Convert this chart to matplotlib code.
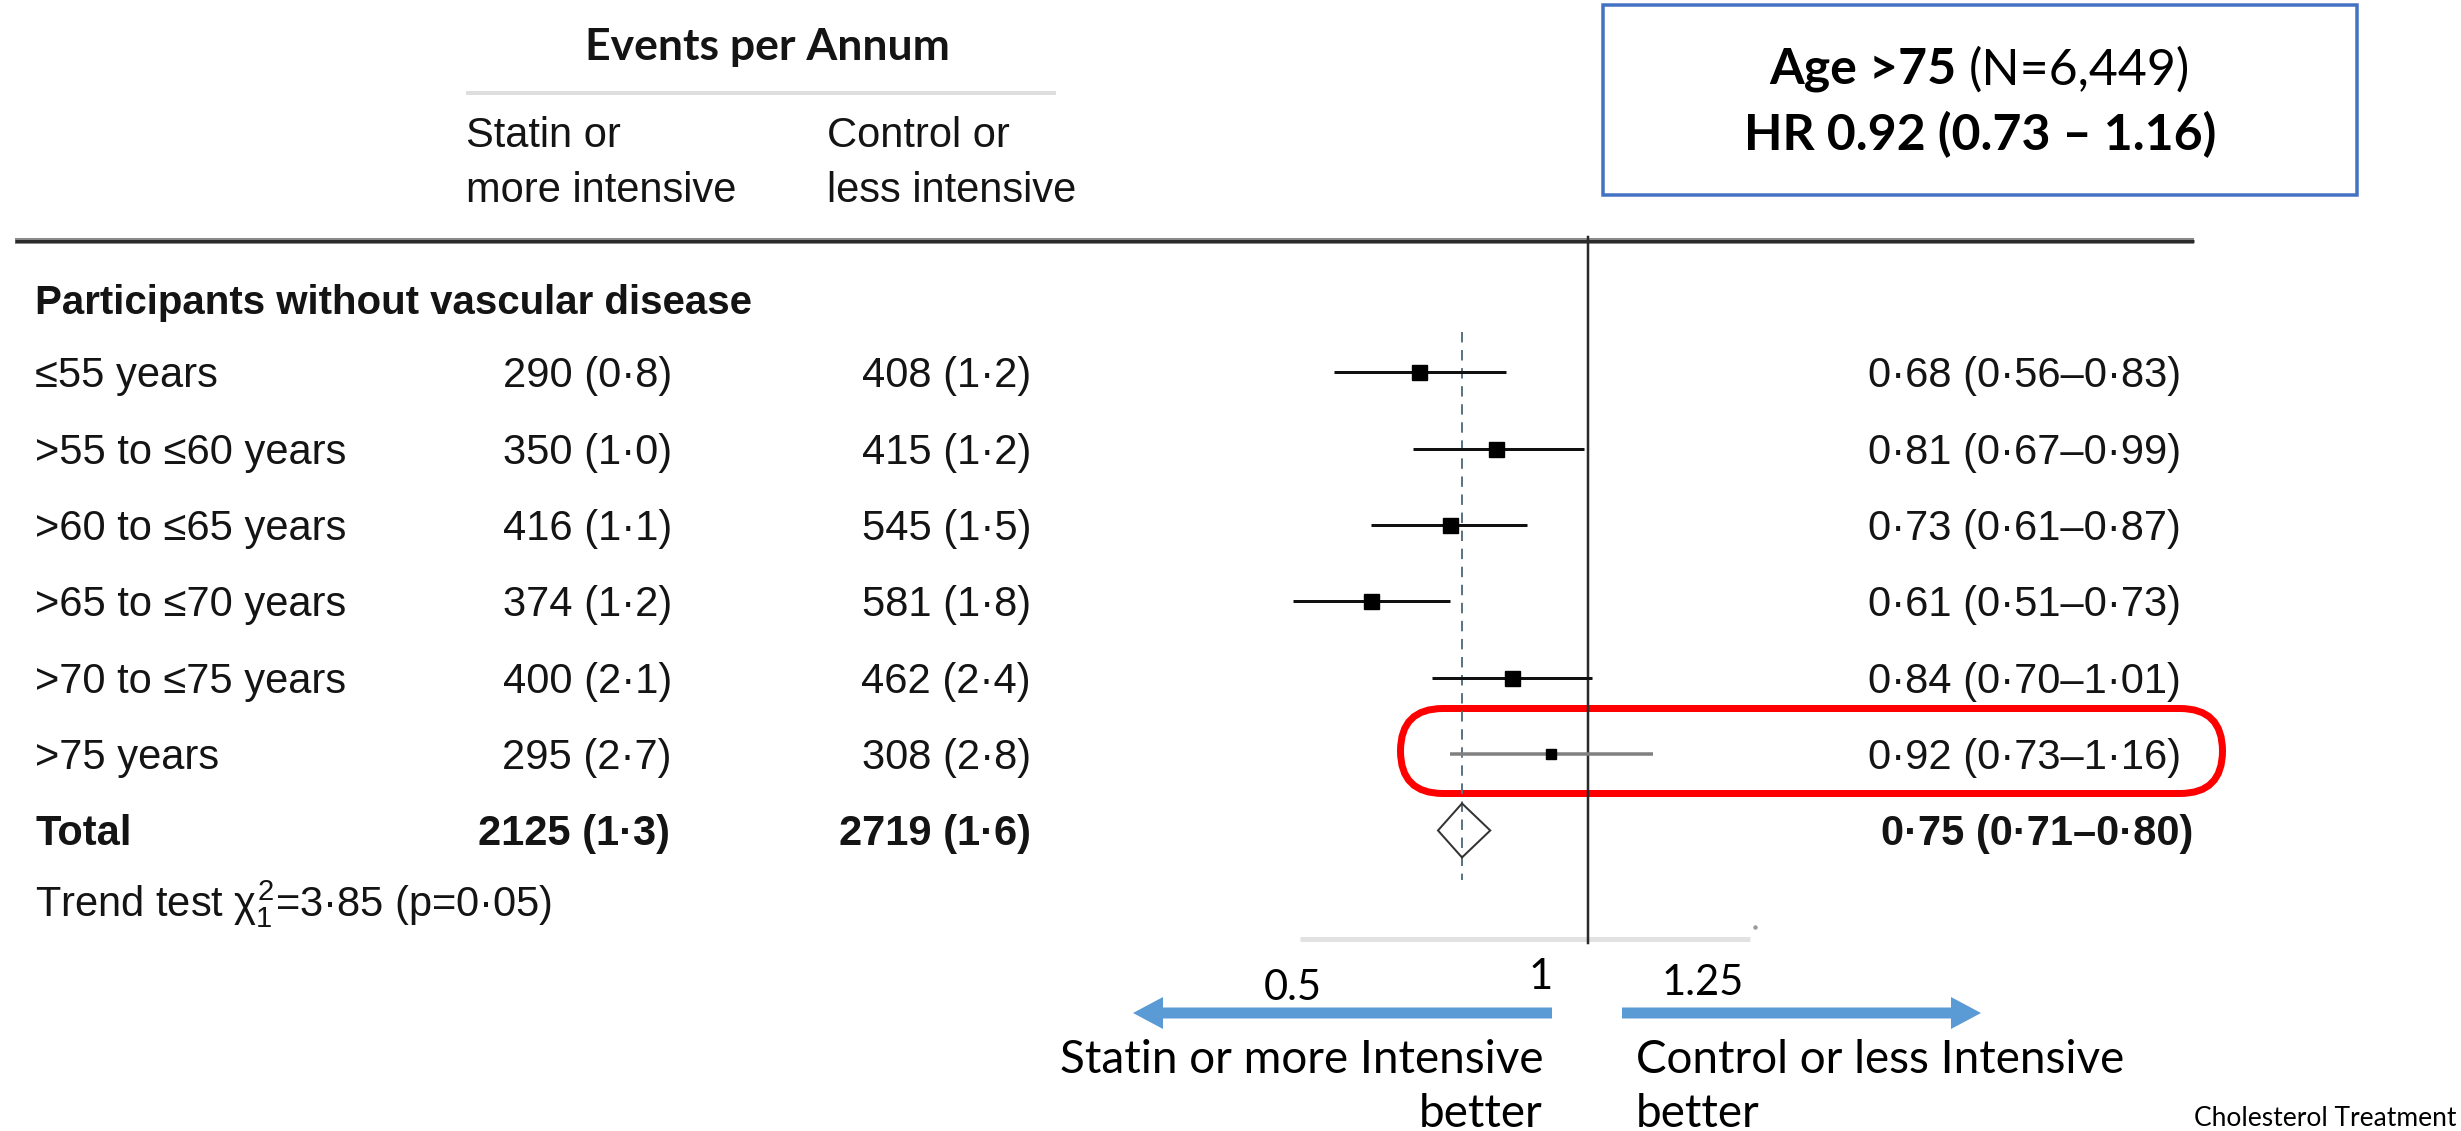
import numpy as np
import matplotlib
matplotlib.use("Agg")
import matplotlib.pyplot as plt
from matplotlib.patches import Rectangle, FancyBboxPatch, Polygon, FancyArrow

# ---------------- data ----------------
age_groups = ['≤55 years', '>55 to ≤60 years', '>60 to ≤65 years',
              '>65 to ≤70 years', '>70 to ≤75 years', '>75 years']
statin_events = [290, 350, 416, 374, 400, 295]
statin_rate = [0.8, 1.0, 1.1, 1.2, 2.1, 2.7]
control_events = [408, 415, 545, 581, 462, 308]
control_rate = [1.2, 1.2, 1.5, 1.8, 2.4, 2.8]
hr = [0.68, 0.81, 0.73, 0.61, 0.84, 0.92]
hr_lo = [0.56, 0.67, 0.61, 0.51, 0.70, 0.73]
hr_hi = [0.83, 0.99, 0.87, 0.73, 1.01, 1.16]
total_statin = [2125, 1.3]
total_control = [2719, 1.6]
total_hr = [0.75, 0.71, 0.80]
trend_chi2 = 3.85
trend_p = 0.05
scale_labels = ['0.5', '1', '1.25']
highlight_n = '6,449'
highlight_hr = ['0.92', '0.73', '1.16']

# ---------------- style ----------------
TABLE = ['Liberation Sans', 'DejaVu Sans']
SLIDE = ['Lato', 'DejaVu Sans']
TXT = '#141414'
plt.rcParams['mathtext.fontset'] = 'custom'
plt.rcParams['mathtext.rm'] = 'Liberation Sans'
plt.rcParams['mathtext.it'] = 'Liberation Sans'
plt.rcParams['mathtext.bf'] = 'Liberation Sans:bold'
plt.rcParams['lines.scale_dashes'] = False

W, H = 2461, 1131
PX = 0.72  # points per pixel at dpi 100

def ld(v, nd=1):
    return f"{v:.{nd}f}".replace('.', '·')

fig = plt.figure(figsize=(W / 100, H / 100), dpi=100)
canvas = fig.add_axes([0, 0, 1, 1])
canvas.set_xlim(0, W)
canvas.set_ylim(H, 0)
canvas.axis('off')

# forest axis: log scale, HR 1 at x=1588 px, 438 px per ln unit
x_one, k = 1588.0, 438.0
forest = fig.add_axes([0, 0, 1, 1])
forest.set_xscale('log')
forest.set_xlim(np.exp(-x_one / k), np.exp((W - x_one) / k))
forest.set_ylim(H, 0)
forest.axis('off')
forest.patch.set_visible(False)

row0, dy = 372.3, 76.36
rows_y = [row0 + i * dy for i in range(len(age_groups))]
total_y = row0 + len(age_groups) * dy

def t(x, y, s, size=30, weight='normal', ha='left', va='baseline', family=TABLE, **kw):
    return canvas.text(x, y, s, fontsize=size, fontweight=weight, ha=ha, va=va,
                       family=family, color=TXT, **kw)

# ---------------- header ----------------
t(767, 47, 'Events per Annum', size=32, weight='bold', ha='center', va='center', family=SLIDE)
canvas.plot([466, 1056], [93, 93], color='#dedede', lw=4 * PX, solid_capstyle='butt')
t(466, 147, 'Statin or')
t(466, 202, 'more intensive')
t(827, 147, 'Control or')
t(827, 202, 'less intensive')
canvas.plot([15, 2194], [241, 241], color='#8a8a8a', lw=6 * PX, solid_capstyle='butt')
canvas.plot([15, 2194], [241, 241], color='#2a2a2a', lw=3 * PX, solid_capstyle='butt')

# ---------------- table ----------------
BL = 15  # baseline offset from row centre
t(35, 299 + BL, 'Participants without vascular disease', size=29, weight='bold')
for i, name in enumerate(age_groups):
    y = rows_y[i] + BL
    t(35, y, name)
    t(672, y, f"{statin_events[i]} ({ld(statin_rate[i])})", ha='right')
    t(1031, y, f"{control_events[i]} ({ld(control_rate[i])})", ha='right')
    t(2181, y, f"{ld(hr[i], 2)} ({ld(hr_lo[i], 2)}–{ld(hr_hi[i], 2)})", ha='right')
y = total_y + BL
t(35, y, 'Total', weight='bold')
t(670, y, f"{total_statin[0]} ({ld(total_statin[1])})", ha='right', weight='bold')
t(1031, y, f"{total_control[0]} ({ld(total_control[1])})", ha='right', weight='bold')
t(2193, y, f"{ld(total_hr[0], 2)} ({ld(total_hr[1], 2)}–{ld(total_hr[2], 2)})", ha='right', weight='bold')
t(35, 901 + BL, r"Trend test $\chi^2_1$=" + f"{ld(trend_chi2, 2)} (p={ld(trend_p, 2)})")

# ---------------- forest ----------------
forest.plot([1, 1], [237, 943], color='#2a2a2a', lw=2.5 * PX, zorder=3)
forest.plot([total_hr[0]] * 2, [332, 880], color='#5b7585', lw=2 * PX,
            dashes=(7.5, 5.5), zorder=2)
for i in range(len(age_groups)):
    last = i == len(age_groups) - 1
    c = '#808080' if last else '#111111'
    forest.plot([hr_lo[i], hr_hi[i]], [rows_y[i]] * 2, color=c,
                lw=(3.5 if last else 3) * PX, solid_capstyle='butt', zorder=4)
    forest.plot([hr[i]], [rows_y[i]], marker='s', color='black',
                ms=(10 if last else 15) * PX, zorder=5)
dh = 27
forest.add_patch(Polygon([[total_hr[1], total_y], [total_hr[0], total_y - dh],
                          [total_hr[2], total_y], [total_hr[0], total_y + dh]],
                         closed=True, fill=False, edgecolor='#333333', lw=2 * PX, zorder=5))
# x axis baseline
forest.plot([0.518, 1.448], [939, 939], color='#e2e2e2', lw=5 * PX,
            solid_capstyle='butt', zorder=1)
forest.plot([1.463], [927], marker='o', ms=3 * PX, color='#9a9a9a', zorder=1)

# highlight
canvas.add_patch(FancyBboxPatch((1400.5, 708.5), 822, 85,
                                boxstyle='round,pad=0,rounding_size=42.5',
                                fill=False, edgecolor='#ff0000', lw=7 * PX, zorder=10))

# ---------------- info box ----------------
canvas.add_patch(Rectangle((1603, 5), 754, 190, fill=False, edgecolor='#4472C4',
                           lw=3.5 * PX, zorder=10))
t1 = canvas.text(0, 70, 'Age >75 ', fontsize=36, fontweight='bold',
                 family=SLIDE, color='black', ha='left', va='center')
t2 = canvas.text(0, 70, f'(N={highlight_n})', fontsize=36, family=SLIDE,
                 color='black', ha='left', va='center')
fig.canvas.draw()
w1 = t1.get_window_extent().width
w2 = t2.get_window_extent().width
x_start = 1980 - (w1 + w2) / 2
t1.set_x(x_start)
t2.set_x(x_start + w1)
canvas.text(1980, 135, f'HR {highlight_hr[0]} ({highlight_hr[1]} – {highlight_hr[2]})',
            fontsize=36, fontweight='bold', family=SLIDE, color='black',
            ha='center', va='center')

# ---------------- scale annotations & arrows ----------------
for lab, xc, yc in zip(scale_labels, [1293, 1541, 1703], [988, 977, 983]):
    canvas.text(xc, yc, lab, fontsize=30, family=SLIDE, color='black',
                ha='center', va='center')
blue = '#5B9BD5'
canvas.add_patch(FancyArrow(1552, 1013, 1133 - 1552, 0, width=11, head_width=32,
                            head_length=30, length_includes_head=True,
                            color=blue, lw=0))
canvas.add_patch(FancyArrow(1622, 1013, 1981 - 1622, 0, width=11, head_width=32,
                            head_length=30, length_includes_head=True,
                            color=blue, lw=0))
canvas.text(1543, 1073, 'Statin or more Intensive', fontsize=33, family=SLIDE,
            color='black', ha='right', va='baseline')
canvas.text(1543, 1127, 'better', fontsize=33, family=SLIDE,
            color='black', ha='right', va='baseline')
canvas.text(1636, 1073, 'Control or less Intensive', fontsize=33, family=SLIDE,
            color='black', ha='left', va='baseline')
canvas.text(1636, 1127, 'better', fontsize=33, family=SLIDE,
            color='black', ha='left', va='baseline')
canvas.text(2457, 1126, 'Cholesterol Treatment', fontsize=19, family=SLIDE,
            color='black', ha='right', va='baseline')

fig.savefig('out.png', dpi=100)
